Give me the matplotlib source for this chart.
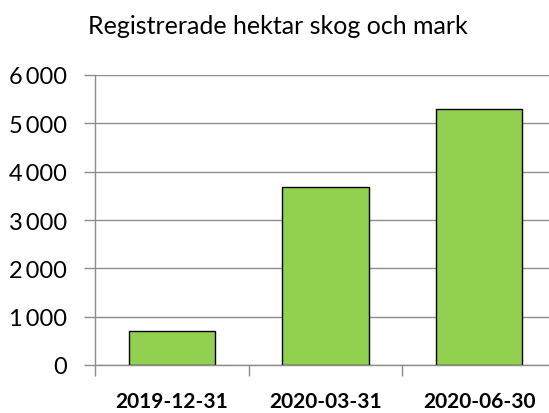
import matplotlib.pyplot as plt
import numpy as np

# data
categories = ['2019-12-31', '2020-03-31', '2020-06-30']
hectares = [700, 3690, 5300]
yticks = [0, 1000, 2000, 3000, 4000, 5000, 6000]

plt.rcParams['font.family'] = ['Lato', 'DejaVu Sans']

fig = plt.figure(figsize=(5.49, 4.14), dpi=100)
# axes runs a bit past the right edge, like the cropped original
left, right = 95 / 549, 556 / 549
bottom, top = 1 - 366 / 414, 1 - 76 / 414
ax = fig.add_axes([left, bottom, right - left, top - bottom])

x = np.arange(len(categories))
ax.bar(x, hectares, width=0.56, color='#92D050', edgecolor='black', linewidth=1.0, zorder=3)

ax.set_xlim(-0.5, len(categories) - 0.5)
ax.set_ylim(0, 6000)
ax.set_yticks(yticks)
ax.set_yticklabels([f'{v:,}'.replace(',', '\u2009') for v in yticks], fontsize=17)
ax.grid(axis='y', color='#8c8c8c', linewidth=1.0, zorder=0)

# category labels in the middle, tick marks between categories
ax.set_xticks(x)
ax.set_xticklabels(categories, fontsize=15, fontweight='bold')
ax.tick_params(axis='x', length=0, pad=19)
ax.set_xticks(np.arange(len(categories) + 1) - 0.5, minor=True)
ax.tick_params(axis='x', which='minor', length=8, color='#8c8c8c', width=1.0)
ax.tick_params(axis='y', length=8, color='#8c8c8c', width=1.0, pad=12)

for s in ['top', 'right']:
    ax.spines[s].set_visible(False)
for s in ['left', 'bottom']:
    ax.spines[s].set_color('#8c8c8c')
    ax.spines[s].set_linewidth(1.0)
    ax.spines[s].set_zorder(4)

fig.text(278 / 549, 1 - 27 / 414, 'Registrerade hektar skog och mark',
         ha='center', va='center', fontsize=18)

fig.savefig('out.png', dpi=100)
